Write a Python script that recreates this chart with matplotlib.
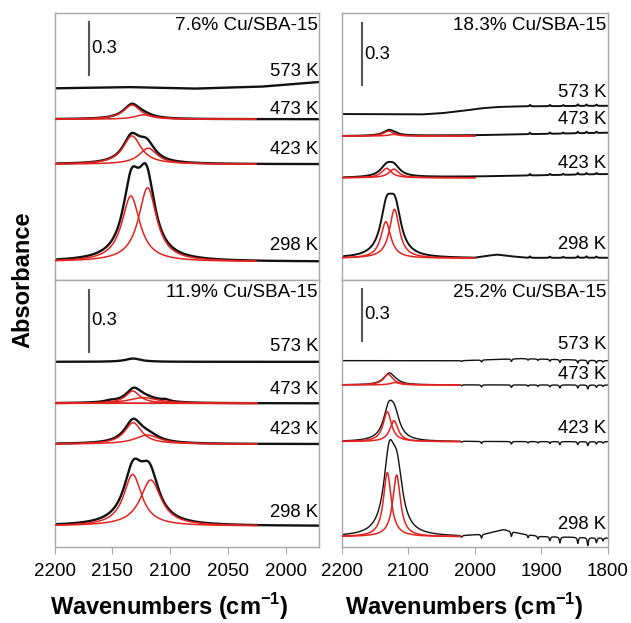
import numpy as np
import matplotlib
matplotlib.use('Agg')
import matplotlib.pyplot as plt

plt.rcParams['font.family'] = ['Liberation Sans', 'DejaVu Sans']
plt.rcParams['mathtext.fontset'] = 'custom'
plt.rcParams['mathtext.rm'] = 'Liberation Sans'
plt.rcParams['mathtext.bf'] = 'Liberation Sans:bold'

TEMPS = ['573 K', '473 K', '423 K', '298 K']

# peaks are (centre cm-1, height, fwhm); drift is (wavenumbers, offsets)
# --- 7.6% Cu/SBA-15 ---
CU76_BASE = [1.091, 0.915, 0.659, 0.104]
CU76_PEAKS = [[],
              [(2133, 0.083, 18), (2122, 0.012, 18)],
              [(2133.5, 0.143, 18), (2120.5, 0.102, 18)],
              [(2133.5, 0.392, 18), (2120.5, 0.423, 18)]]
CU76_FIT = [[],
            [(2133, 0.081, 18), (2123, 0.025, 18)],
            [(2133, 0.161, 19), (2119, 0.091, 19)],
            [(2134, 0.374, 19), (2119.5, 0.421, 19)]]
CU76_DRIFT = [([2200, 2137, 2080, 2022, 1971], [0, 0.007, -0.002, 0.009, 0.036]),
              None, None, None]

# --- 18.3% Cu/SBA-15 ---
CU183_BASE = [0.807, 0.700, 0.497, 0.1055]
CU183_PEAKS = [[],
               [(2129.5, 0.026, 20), (2122, 0.005, 18)],
               [(2133, 0.047, 22), (2122, 0.047, 22)],
               [(2133, 0.212, 22), (2120, 0.212, 22)]]
CU183_FIT = [[],
             [(2130, 0.024, 18), (2122, 0.008, 18)],
             [(2133, 0.046, 18), (2122, 0.042, 18)],
             [(2134, 0.178, 18), (2121, 0.238, 18)]]
CU183_DRIFT = [([2200, 2080, 2050, 2020, 1990, 1967, 1940, 1800],
                [0, -0.002, 0.004, 0.015, 0.028, 0.034, 0.037, 0.040]),
               ([2200, 2000, 1800], [0, 0.004, 0.016]),
               ([2200, 2000, 1800], [0, 0.006, 0.018]),
               ([2200, 2000, 1985, 1967, 1945, 1920, 1800], [0, 0, 0.008, 0.016, 0.008, 0.001, 0.002])]
CU183_LINES = [1917, 1887, 1867, 1845, 1832, 1817]
CU183_LINE_H = [0.007, 0.006, 0.005, 0.008, 0.007, 0.006]

# --- 11.9% Cu/SBA-15 ---
CU119_BASE = [0.902, 0.700, 0.502, 0.1035]
CU119_PEAKS = [[(2132, 0.016, 16)],
               [(2131.5, 0.060, 16), (2122, 0.022, 30), (2152, 0.006, 10), (2104, 0.008, 8)],
               [(2132, 0.108, 18), (2119, 0.033, 24)],
               [(2132, 0.245, 20), (2118, 0.225, 20)]]
CU119_FIT = [[],
             [(2132.4, 0.060, 15), (2123, 0.028, 30), (2152, 0.006, 10), (2105, 0.007, 8)],
             [(2132, 0.104, 18), (2119.7, 0.044, 26)],
             [(2132.4, 0.251, 19), (2116.8, 0.224, 22)]]
CU119_DRIFT = [None, None, None, None]

# --- 25.2% Cu/SBA-15 ---
CU252_BASE = [1.083, 0.942, 0.613, 0.0615]
CU252_PEAKS = [[],
               [(2129, 0.066, 20), (2120, 0.008, 18)],
               [(2130, 0.162, 19), (2121, 0.13, 19)],
               [(2129, 0.421, 20), (2117, 0.317, 20)]]
CU252_FIT = [[],
             [(2130.4, 0.062, 17), (2120.3, 0.014, 17)],
             [(2131.8, 0.174, 15), (2121.8, 0.122, 15)],
             [(2131.8, 0.372, 14), (2117.8, 0.358, 14)]]
CU252_DRIFT = [([2200, 2020, 1930, 1800], [0, 0, 0.012, 0]),
               None, None,
               ([2200, 2020, 1985, 1957, 1930, 1900, 1800], [0, 0, 0.012, 0.039, 0.015, 0, -0.008])]
CU252_LINES = [2020, 1990, 1945, 1920, 1905, 1887, 1872, 1845, 1830, 1817, 1807]
CU252_LINE_H = [-0.010, -0.023, -0.029, -0.017, -0.017, -0.023, -0.035, -0.035, -0.046, -0.029, -0.017]


def lorentz(x, c, h, w):
    return h / (1 + ((x - c) / (w / 2)) ** 2)


def spectrum(x, peaks, drift=None, lines=None, line_h=None, scale=1.0):
    y = np.zeros_like(x)
    for c, h, w in peaks:
        y += lorentz(x, c, h, w)
    if drift is not None:
        wn, off = drift
        y += np.interp(x, wn[::-1], off[::-1])
    if lines is not None:
        for c, h in zip(lines, line_h):
            y += scale * lorentz(x, c, h, 2.0)
    return y


panels = [
    dict(name='7.6% Cu/SBA-15', rect=[0.0864, 0.5506, 0.4197, 0.4281], xmin=1971, span=1.518,
         base=CU76_BASE, peaks=CU76_PEAKS, fit=CU76_FIT, drift=CU76_DRIFT, lines=None, line_h=None,
         scale=[1, 1, 1, 1], fit_end=2026, bar_top=1.467, lift=[10, 10, 14.3, 15.7],
         lw=1.7, bottom=False),
    dict(name='18.3% Cu/SBA-15', rect=[0.5420, 0.5506, 0.4211, 0.4281], xmin=1800, span=1.297,
         base=CU183_BASE, peaks=CU183_PEAKS, fit=CU183_FIT, drift=CU183_DRIFT,
         lines=CU183_LINES, line_h=CU183_LINE_H, scale=[1, 1, 1, 1], fit_end=2000,
         bar_top=1.248, lift=[13.3, 13.4, 10.7, 13.7], lw=1.4, bottom=False),
    dict(name='11.9% Cu/SBA-15', rect=[0.0864, 0.1215, 0.4197, 0.4291], xmin=1971, span=1.300,
         base=CU119_BASE, peaks=CU119_PEAKS, fit=CU119_FIT, drift=CU119_DRIFT, lines=None, line_h=None,
         scale=[1, 1, 1, 1], fit_end=2025, bar_top=1.251, lift=[15, 14, 14, 12.7],
         lw=1.7, bottom=True),
    dict(name='25.2% Cu/SBA-15', rect=[0.5420, 0.1215, 0.4211, 0.4291], xmin=1800, span=1.551,
         base=CU252_BASE, peaks=CU252_PEAKS, fit=CU252_FIT, drift=CU252_DRIFT,
         lines=CU252_LINES, line_h=CU252_LINE_H, scale=[0.5, 0.5, 0.5, 1.0], fit_end=2022,
         bar_top=1.499, lift=[16.4, 10, 13.4, 14], lw=1.0, bottom=True),
]

RED = '#e3231f'
GRID_GREY = '#a8a8a8'

fig = plt.figure(figsize=(6.31, 6.23), dpi=100)

for p in panels:
    ax = fig.add_axes(p['rect'])
    x = np.linspace(2200, p['xmin'], 3000)
    for i, temp in enumerate(TEMPS):
        off = p['base'][i]
        y = spectrum(x, p['peaks'][i], p['drift'][i], p['lines'], p['line_h'], p['scale'][i])
        ax.plot(x, off + y, color='#111111', lw=p['lw'], zorder=2)
        # fitted components only over the fit window
        xf = x[x >= p['fit_end']]
        for c, h, w in p['fit'][i]:
            ax.plot(xf, off + lorentz(xf, c, h, w), color=RED, lw=1.1, zorder=3)
        ax.annotate(temp, xy=(p['xmin'], off + y[-1]), xytext=(-1, p['lift'][i] * 0.72),
                    textcoords='offset points', ha='right', va='center', fontsize=13.3)

    # 0.3 absorbance scale bar
    ax.plot([2170, 2170], [p['bar_top'] - 0.3, p['bar_top']], color='#555555', lw=1.5)
    ax.annotate('0.3', xy=(2170, p['bar_top'] - 0.15), xytext=(1.5, 0),
                textcoords='offset points', ha='left', va='center', fontsize=13.3)
    ax.text(1 - 1.5 / 265, 1 - 12.5 / 267, p['name'], transform=ax.transAxes,
            ha='right', va='center', fontsize=13.6)

    ax.set_xlim(2200, p['xmin'])
    ax.set_ylim(0, p['span'])
    for s in ax.spines.values():
        s.set_color(GRID_GREY)
        s.set_linewidth(1.0)
    ax.set_yticks([])
    if p['xmin'] > 1900:
        ax.set_xticks([2200, 2150, 2100, 2050, 2000])
    else:
        ax.set_xticks([2200, 2100, 2000, 1900, 1800])
    if p['bottom']:
        ax.tick_params(axis='x', direction='out', length=5, color=GRID_GREY,
                       labelsize=13.5, pad=6)
    else:
        ax.tick_params(axis='x', bottom=False, labelbottom=False)

fig.text(169 / 631, 1 - 607 / 623, r'Wavenumbers (cm$^{\mathbf{-1}}$)', fontsize=17,
         fontweight='bold', ha='center', va='center')
fig.text(464 / 631, 1 - 607 / 623, r'Wavenumbers (cm$^{\mathbf{-1}}$)', fontsize=17,
         fontweight='bold', ha='center', va='center')
fig.text(22.5 / 631, 1 - 280 / 623, 'Absorbance', fontsize=17, fontweight='bold',
         rotation=90, ha='center', va='center')

fig.savefig('out.png', dpi=100)
